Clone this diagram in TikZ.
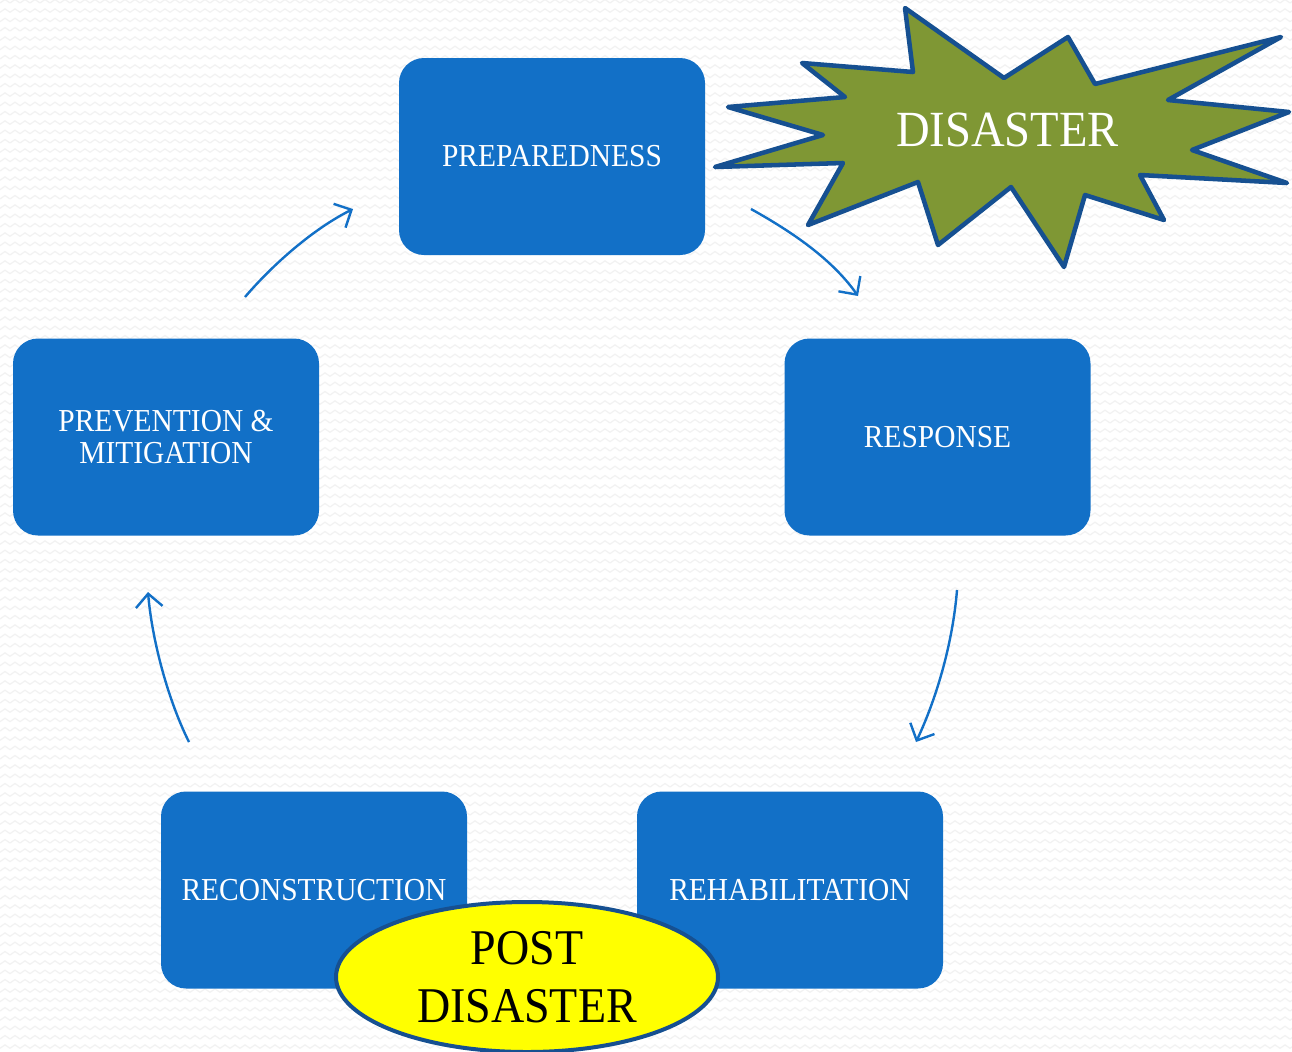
\documentclass[tikz,border=0pt]{standalone}
\usepackage{fontspec}
\newfontfamily\lblfont{Liberation Serif}[FakeStretch=0.92]
\usetikzlibrary{arrows.meta,shapes.geometric,patterns}
\definecolor{boxblue}{RGB}{18,112,199}
\definecolor{starfill}{RGB}{127,151,52}
\definecolor{edgeblue}{RGB}{22,80,145}
\definecolor{postyellow}{RGB}{255,255,0}
\pgfdeclarepatternformonly{bgzig}{\pgfqpoint{-0.5pt}{0pt}}{\pgfqpoint{8pt}{7pt}}{\pgfqpoint{7.5pt}{7pt}}{%
  \pgfsetlinewidth{0.9pt}%
  \pgfpathmoveto{\pgfqpoint{0pt}{2pt}}%
  \pgfpathlineto{\pgfqpoint{3.75pt}{4.6pt}}%
  \pgfpathlineto{\pgfqpoint{7.5pt}{2pt}}%
  \pgfusepathqstroke}
\tikzset{
  stagebox/.style={fill=boxblue, rounded corners=18.75pt, minimum width=229.5pt,
    minimum height=147.75pt, text=white, align=center,
    font=\lblfont\fontsize{24pt}{24pt}\selectfont},
  cyclearrow/.style={draw=boxblue, line width=1.8pt,
    -{Straight Barb[length=10pt,width=20pt]}},
  burst/.style={fill=starfill, draw=edgeblue, line width=3.4pt, line join=round},
}
\begin{document}
\begin{tikzpicture}[x=0.75pt,y=-0.75pt]
\useasboundingbox (0,0) rectangle (1292,1051);
\fill[white] (0,0) rectangle (1292,1051);
\fill[pattern=bgzig, pattern color=black!5] (0,0) rectangle (1292,1051);

% stages
\node[stagebox] (prep)  at (552,156.5) {PREPAREDNESS};
\node[stagebox] (resp)  at (937.5,437) {RESPONSE};
\node[stagebox] (prev)  at (166,437)   {PREVENTION \&\\MITIGATION};
\node[stagebox] (recon) at (314,890)   {RECONSTRUCTION};
\node[stagebox] (rehab) at (790,890)   {REHABILITATION};

% disaster burst
\draw[burst] (905,8) -- (1004,78) -- (1068,37) -- (1095,84) -- (1281,37)
  -- (1168,100) -- (1289,112) -- (1192,150) -- (1287,183) -- (1140,175)
  -- (1164,220) -- (1085,195) -- (1064,267) -- (1011,187) -- (938,245)
  -- (918,182) -- (808,225) -- (843,163) -- (715,167) -- (823,135)
  -- (728,107) -- (845,97) -- (802,63) -- (913,72) -- cycle;
\node[text=white, font=\lblfont\fontsize{38pt}{40pt}\selectfont] (disaster) at (1007.5,130) {DISASTER};

% post disaster
\node[ellipse, minimum width=286.5pt, minimum height=112.5pt, fill=postyellow,
  draw=edgeblue, line width=3pt, align=center, inner sep=0pt,
  font=\lblfont\fontsize{37.5pt}{43.5pt}\selectfont] (post) at (527,977) {POST\\DISASTER};

% cycle arrows
\coordinate (a1s) at (245,297);  \coordinate (a1e) at (353,209);
\coordinate (a2s) at (751,209);  \coordinate (a2e) at (858,296);
\coordinate (a3s) at (957,590);  \coordinate (a3e) at (916,742);
\coordinate (a4s) at (189,742);  \coordinate (a4e) at (148,592);
\draw[cyclearrow] (a1s) .. controls (275,262) and (315,228) .. (a1e);
\draw[cyclearrow] (a2s) .. controls (785,228) and (830,256) .. (a2e);
\draw[cyclearrow] (a3s) .. controls (953,640) and (938,695) .. (a3e);
\draw[cyclearrow] (a4s) .. controls (168,700) and (152,640) .. (a4e);
\end{tikzpicture}
\end{document}
